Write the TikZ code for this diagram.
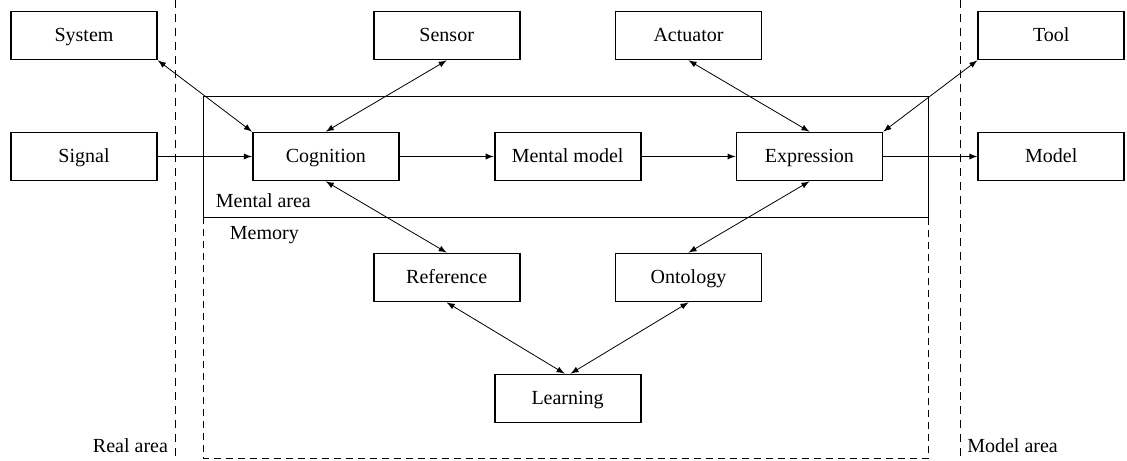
\documentclass[tikz,border=0pt]{standalone}
\usepackage{fontspec}
\setmainfont{Liberation Serif}
\usetikzlibrary{arrows,calc,positioning}
\tikzset{
    %Define standard arrow tip
    >=latex,
    %Define style for boxes
    block/.style={
           rectangle,
           draw=black, line width=0.9pt,
           minimum width=73pt,
           minimum height=24pt,
           text height=1.75ex,
           text depth=0.38ex,
           inner sep=2pt,
           text centered},
    %Define style for the areas
    area/.style={
           draw=black, line width=0.4pt},
    memoryarea/.style={
           draw=black, line width=0.4pt,
           dash pattern=on 3.5pt off 2.5pt},
    border/.style={
           draw=black, line width=0.4pt,
           dash pattern=on 4pt off 3pt},
    arealabel/.style={
           inner sep=3.3pt},
    % Define arrow styles
    link/.style={
           ->,
           line width=0.4pt},
    dlink/.style={
           <->,
           line width=0.4pt}
}
\begin{document}
\begin{tikzpicture}[node distance=35.6pt and 47pt]
\coordinate (top) at (0,78.25pt);
\coordinate (bottom) at (0,-151.75pt);
\useasboundingbox (-42pt,78.25pt) rectangle (521.5pt,-151.75pt);
% middle row
\node[block](signal){Signal};
\node[block, right=of signal](cognition){Cognition};
\node[block, right=of cognition](mentalmodel){Mental model};
\node[block, right=of mentalmodel](expression){Expression};
\node[block, right=of expression](model){Model};
% top row
\node[block, above=of signal](system){System};
\node[block, above=of model](tool){Tool};
\node[block] (sensor) at ($(cognition)!0.5!(mentalmodel)+(0,60.5pt)$) {Sensor};
\node[block] (actuator) at ($(mentalmodel)!0.5!(expression)+(0,60.5pt)$) {Actuator};
% memory
\node[block] (reference) at ($(cognition)!0.5!(mentalmodel)-(0,60.5pt)$) {Reference};
\node[block] (ontology) at ($(mentalmodel)!0.5!(expression)-(0,60.5pt)$) {Ontology};
\node[block] (learning) at ($(mentalmodel)-(0,121pt)$) {Learning};
% areas
\coordinate (mentalnw) at ([xshift=-24.5pt,yshift=17.5pt]cognition.north west);
\coordinate (mentalse) at ([xshift=22.5pt,yshift=-18pt]expression.south east);
\coordinate (mentalsw) at (mentalnw |- mentalse);
\coordinate (memoryse) at ($(mentalse |- learning.south)+(0,-17.5pt)$);
\coordinate (realx) at ([xshift=8.5pt]signal.east);
\coordinate (modelx) at ([xshift=-8.5pt]model.west);
\draw[memoryarea] (mentalsw) rectangle (memoryse);
\draw[area] (mentalnw) rectangle (mentalse);
\draw[border] (realx |- top) -- (realx |- bottom);
\draw[border] (modelx |- top) -- (modelx |- bottom);
\node[arealabel, anchor=south west](mentallabel) at ([xshift=3pt,yshift=1.5pt]mentalsw) {Mental area};
\node[arealabel, anchor=north west](memorylabel) at ([xshift=10pt,yshift=-1pt]mentalsw) {Memory};
\node[arealabel, anchor=south east](reallabel) at (realx |- bottom) {Real area};
\node[arealabel, anchor=south west](modellabel) at (modelx |- bottom) {Model area};
% connectors
\path[link]
    (signal) edge (cognition)
    (cognition) edge (mentalmodel)
    (mentalmodel) edge (expression)
    (expression) edge (model);
\path[dlink]
    (system.south east) edge (cognition.north west)
    (sensor.south) edge (cognition.north)
    (actuator.south) edge (expression.north)
    (tool.south west) edge (expression.north east)
    (cognition.south) edge (reference.north)
    (expression.south) edge (ontology.north)
    (reference.south) edge ([xshift=-1.5pt]learning.north)
    (ontology.south) edge ([xshift=1.5pt]learning.north);
\end{tikzpicture}
\end{document}
